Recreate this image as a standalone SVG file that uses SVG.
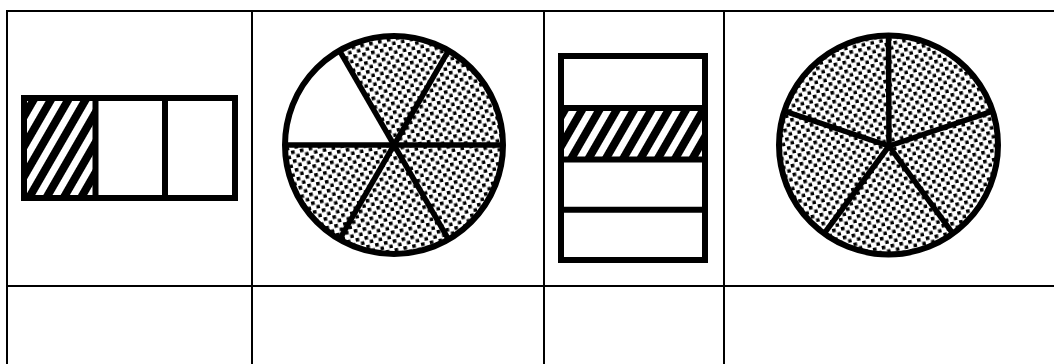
<svg xmlns="http://www.w3.org/2000/svg" width="1054" height="364" viewBox="0 0 1054 364">
  <style>
    .grid { stroke: #000; stroke-width: 2; fill: none; }
    .shape { stroke: #000; stroke-width: 6; fill: none; }
    .spoke { stroke: #000; stroke-width: 5.5; fill: none; }
    .ring { stroke: #000; stroke-width: 6; }
  </style>
  <defs>
    <pattern id="hatch" patternUnits="userSpaceOnUse" width="15" height="15" patternTransform="rotate(30)">
      <rect x="0" y="0" width="15" height="15" fill="#fff"/>
      <rect x="0" y="0" width="8" height="15" fill="#000"/>
    </pattern>
    <pattern id="dots" patternUnits="userSpaceOnUse" width="9" height="9" patternTransform="rotate(-12)">
      <rect x="0" y="0" width="9" height="9" fill="#fff"/>
      <rect x="1" y="1" width="3.6" height="3.6" fill="#000"/>
      <rect x="5.5" y="5.5" width="3.6" height="3.6" fill="#000"/>
    </pattern>
  </defs>
  <rect x="0" y="0" width="1054" height="364" fill="#fff"/>

  <g id="table">
    <line class="grid" x1="6" y1="11" x2="1054" y2="11"/>
    <line class="grid" x1="6" y1="286" x2="1054" y2="286"/>
    <line class="grid" x1="7" y1="10" x2="7" y2="364"/>
    <line class="grid" x1="252" y1="10" x2="252" y2="364"/>
    <line class="grid" x1="544" y1="10" x2="544" y2="364"/>
    <line class="grid" x1="724" y1="10" x2="724" y2="364"/>
  </g>

  <g id="rect-thirds">
    <rect x="24" y="98" width="71.5" height="100" fill="url(#hatch)"/>
    <rect class="shape" x="24" y="98" width="211" height="100"/>
    <line class="shape" x1="95.5" y1="98" x2="95.5" y2="198"/>
    <line class="shape" x1="165" y1="98" x2="165" y2="198"/>
  </g>

  <g id="circle-sixths">
    <circle cx="394" cy="145" r="109" fill="url(#dots)"/>
    <path d="M394,145 L285,145 A109,109 0 0 1 339.5,50.6 Z" fill="#fff"/>
    <line class="spoke" x1="285" y1="145" x2="503" y2="145"/>
    <line class="spoke" x1="339.5" y1="50.6" x2="448.5" y2="239.4"/>
    <line class="spoke" x1="448.5" y1="50.6" x2="339.5" y2="239.4"/>
    <circle class="ring" cx="394" cy="145" r="109" fill="none"/>
  </g>

  <g id="rect-quarters">
    <rect x="561" y="108" width="144" height="51.5" fill="url(#hatch)"/>
    <rect class="shape" x="561" y="56" width="144" height="204"/>
    <line class="shape" x1="561" y1="108" x2="705" y2="108"/>
    <line class="shape" x1="561" y1="159.5" x2="705" y2="159.5"/>
    <line class="shape" x1="561" y1="209.7" x2="705" y2="209.7"/>
  </g>

  <g id="circle-fifths">
    <circle cx="888.5" cy="145" r="109.5" fill="url(#dots)"/>
    <line class="spoke" x1="889" y1="146" x2="888.5" y2="35.5"/>
    <line class="spoke" x1="889" y1="146" x2="992.6" y2="111.2"/>
    <line class="spoke" x1="889" y1="146" x2="952.9" y2="233.6"/>
    <line class="spoke" x1="889" y1="146" x2="824.1" y2="233.6"/>
    <line class="spoke" x1="889" y1="146" x2="784.4" y2="111.2"/>
    <circle class="ring" cx="888.5" cy="145" r="109.5" fill="none"/>
  </g>
</svg>
